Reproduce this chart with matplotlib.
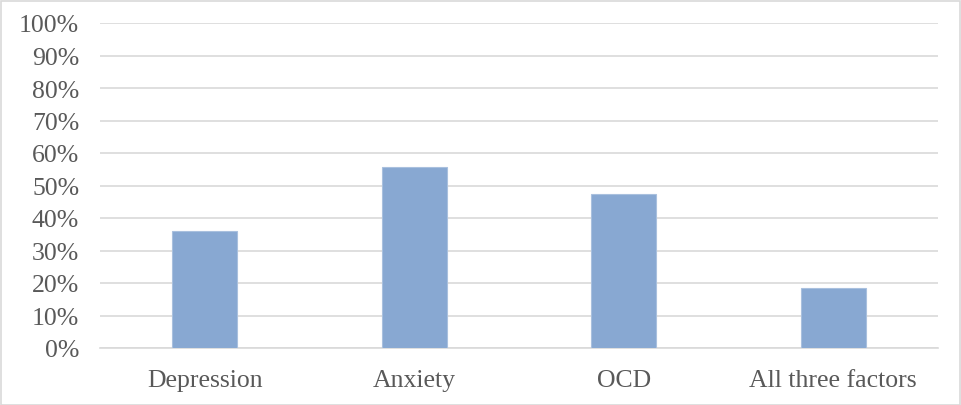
import matplotlib.pyplot as plt
from matplotlib.patches import Rectangle
from matplotlib.ticker import PercentFormatter

categories = ["Depression", "Anxiety", "OCD", "All three factors"]
values = [36.0, 55.7, 47.4, 18.5]
yticks = list(range(0, 101, 10))

plt.rcParams['font.family'] = ['Liberation Serif', 'DejaVu Serif']

fig = plt.figure(figsize=(9.61, 4.06), dpi=100)
ax = fig.add_axes([100 / 961, (406 - 349) / 406, 838 / 961, 325 / 406])

x = range(len(categories))
ax.bar(x, values, width=0.31, color='#88A8D2', edgecolor='#A9C0DE', linewidth=0.8, zorder=3)

ax.set_xlim(-0.5, len(categories) - 0.5)
ax.set_ylim(0, 100)
ax.set_yticks(yticks)
ax.yaxis.set_major_formatter(PercentFormatter(decimals=0))
ax.set_xticks(list(x))
ax.set_xticklabels(categories)

ax.grid(axis='y', color='#D9D9D9', linewidth=1.2, zorder=0)
for side in ['top', 'right', 'left']:
    ax.spines[side].set_visible(False)
ax.spines['bottom'].set_color('#D9D9D9')
ax.spines['bottom'].set_linewidth(1.2)
ax.tick_params(axis='both', length=0, labelsize=18.5, labelcolor='#595959')
ax.tick_params(axis='y', pad=15)
ax.tick_params(axis='x', pad=15)

# thin frame around the whole chart
fig.patches.append(Rectangle((0.5 / 961, 0.5 / 406), 959 / 961, 404 / 406,
                             transform=fig.transFigure, fill=False,
                             edgecolor='#D9D9D9', linewidth=1.2))

fig.savefig('out.png', dpi=100)
